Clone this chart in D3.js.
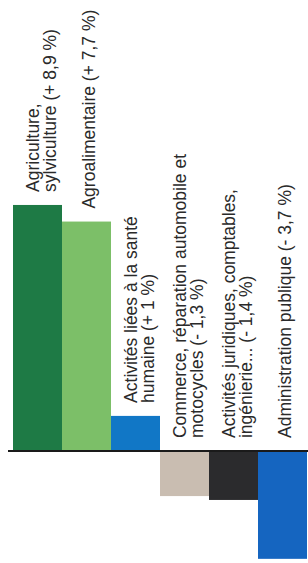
<!DOCTYPE html>
<html>
<head>
<meta charset="utf-8">
<script src="https://cdn.jsdelivr.net/npm/d3@7"></script>
<style>
  html, body { margin: 0; padding: 0; background: #fff; }
  svg { display: block; }
  .lbl { font-family: "Liberation Sans", Arial, sans-serif; font-size: 17.5px; fill: #2a2a2a; }
</style>
</head>
<body>
<div id="chart"></div>
<script>
// Sectors (one bar each)
var categories = ["Agriculture", "Agroalimentaire", "Santé", "Commerce", "Juridique", "Administration"];

// Bar lengths as drawn in the picture (percentage points on the chart's own scale)
var values = [8.9, 8.3, 1.27, -1.63, -1.77, -3.9];

// Label text, one array per bar, one entry per line
var labelLines = [
  ["Agriculture,", "sylviculture (+ 8,9 %)"],
  ["Agroalimentaire (+ 7,7 %)"],
  ["Activités liées à la santé", "humaine (+ 1 %)"],
  ["Commerce, réparation automobile et", "motocycles (- 1,3 %)"],
  ["Activités juridiques, comptables,", "ingénierie... (- 1,4 %)"],
  ["Administration publique (- 3,7 %)"]
];

var colors = ["#1e7a45", "#7cbf68", "#1177c6", "#c9bdb1", "#2b2b2d", "#1565c0"];

var width = 308, height = 563;

var svg = d3.select("#chart")
  .append("svg")
  .attr("width", width)
  .attr("height", height);

// Scales
var x = d3.scaleBand()
  .domain(d3.range(categories.length))
  .range([13, 307])
  .padding(0);

var y = d3.scaleLinear()
  .domain([-4, 9])
  .range([561.6, 202.2]);

// Bars
svg.selectAll("rect.bar")
  .data(values)
  .enter()
  .append("rect")
  .attr("class", "bar")
  .attr("x", function(d, i) { return x(i); })
  .attr("width", x.bandwidth())
  .attr("y", function(d) { return Math.min(y(d), y(0)); })
  .attr("height", function(d) { return Math.abs(y(d) - y(0)); })
  .attr("fill", function(d, i) { return colors[i]; });

// Zero line
svg.append("line")
  .attr("x1", x.range()[0] - 5)
  .attr("x2", width)
  .attr("y1", y(0))
  .attr("y2", y(0))
  .attr("stroke", "#1a1a1a")
  .attr("stroke-width", 2);

// Rotated labels above each bar (or above the zero line for negative bars)
values.forEach(function(v, i) {
  var lines = labelLines[i];
  var cx = x(i) + x.bandwidth() / 2 + (lines.length === 1 ? 9 : 2);
  var ty = Math.min(y(v), y(0)) - 13;
  lines.forEach(function(line, j) {
    var tx = cx + j * 17;
    svg.append("text")
      .attr("class", "lbl")
      .attr("x", tx)
      .attr("y", ty)
      .attr("transform", "rotate(-90," + tx + "," + ty + ")")
      .attr("text-anchor", "start")
      .text(line);
  });
});
</script>
</body>
</html>
